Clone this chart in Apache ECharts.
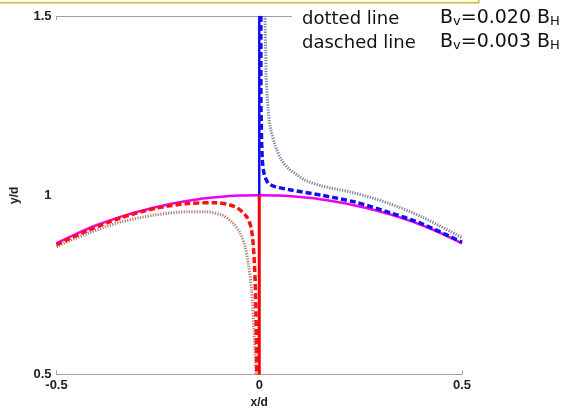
<!DOCTYPE html>
<html><head><meta charset="utf-8">
<script src="https://cdn.jsdelivr.net/npm/echarts@6/dist/echarts.min.js"></script>
<style>html,body{margin:0;padding:0;background:#fff}#c{width:570px;height:414px}</style>
</head><body><div id="c"></div>
<script>
// x-tick labels and y-tick labels
const xTicks = [-0.5, 0, 0.5];
const yTicks = [0.5, 1, 1.5];
// Solid magenta arc (x, y)
const arcSolid = [[-0.5,0.866],[-0.45,0.893],[-0.4,0.917],[-0.35,0.937],[-0.3,0.954],[-0.25,0.968],[-0.2,0.980],[-0.15,0.989],[-0.1,0.995],[-0.05,0.999],[0,1.0],[0.05,0.999],[0.1,0.995],[0.15,0.989],[0.2,0.980],[0.25,0.968],[0.3,0.954],[0.35,0.937],[0.4,0.917],[0.45,0.893],[0.5,0.866]];
// Solid vertical lines
const blueSolid = [[0,1.0],[0,1.5]];
const redSolid = [[0,1.0],[0,0.5]];
// Dashed (Bv=0.003 BH)
const blueDashed = [[0.004,1.5],[0.004,1.3],[0.005,1.2],[0.0075,1.1],[0.012,1.06],[0.022,1.034],[0.039,1.024],[0.072,1.016],[0.154,1.0],[0.236,0.981],[0.318,0.953],[0.4,0.921],[0.5,0.869]];
const redDashed = [[-0.5,0.862],[-0.422,0.902],[-0.339,0.938],[-0.257,0.963],[-0.175,0.977],[-0.109,0.979],[-0.06,0.968],[-0.031,0.940],[-0.019,0.903],[-0.012,0.81],[-0.008,0.671],[-0.006,0.5]];
// Dotted (Bv=0.020 BH)
const blueDotted = [[0.014,1.5],[0.016,1.4],[0.017,1.331],[0.022,1.238],[0.027,1.191],[0.039,1.14],[0.055,1.098],[0.072,1.075],[0.092,1.058],[0.113,1.042],[0.154,1.026],[0.236,1.006],[0.318,0.978],[0.4,0.940],[0.5,0.882]];
const redDotted = [[-0.5,0.857],[-0.422,0.894],[-0.339,0.926],[-0.257,0.945],[-0.175,0.954],[-0.134,0.954],[-0.093,0.945],[-0.068,0.926],[-0.047,0.894],[-0.035,0.857],[-0.027,0.81],[-0.019,0.736],[-0.013,0.624],[-0.008,0.5]];

const chart = echarts.init(document.getElementById('c'), null, {renderer:'canvas'});
const axisColor = '#a0a0a0';
const lblStyle = {color:'#222', fontFamily:'Liberation Sans, Arial', fontWeight:'bold', fontSize:13};
function mkLine(data, color, width, type, z){
  return {type:'line', data:data, showSymbol:false, symbol:'none', smooth:0.3,
    lineStyle:{color:color, width:width, type:type}, z:z, animation:false, silent:true};
}
const legFont = '18px "DejaVu Sans"';
const bFont = '19px "DejaVu Sans"';
const subFont = '13px "DejaVu Sans"';
const rich = {m:{font:bFont, fill:'#111', verticalAlign:'bottom'}, s:{font:subFont, fill:'#111', padding:[7,0,0,0], verticalAlign:'bottom'}};
chart.setOption({
  animation:false,
  backgroundColor:'#fff',
  grid:{left:56.5, right:108, top:16, bottom:39.5},
  xAxis:[{type:'value', min:-0.5, max:0.5, interval:0.5, position:'bottom',
    name:'x/d', nameLocation:'middle', nameGap:22, nameTextStyle:Object.assign({}, lblStyle, {fontSize:12}),
    axisLine:{show:true, lineStyle:{color:axisColor, width:1.2}}, axisTick:{inside:true, length:4, lineStyle:{color:axisColor}},
    axisLabel:Object.assign({margin:4, formatter:v=>xTicks.indexOf(v)>=0?String(v):''}, lblStyle), splitLine:{show:false}},
   {type:'value', min:-0.5, max:0.5, interval:0.5, position:'top',
    axisLine:{show:true, lineStyle:{color:axisColor, width:1.2}}, axisTick:{inside:true, length:4, lineStyle:{color:axisColor}},
    axisLabel:{show:false}, splitLine:{show:false}}],
  yAxis:[{type:'value', min:0.5, max:1.5, interval:0.5, position:'left',
    name:'y/d', nameLocation:'middle', nameGap:36, nameTextStyle:Object.assign({}, lblStyle, {fontSize:12}),
    axisLine:{show:true, lineStyle:{color:axisColor, width:1.2}}, axisTick:{inside:true, length:4, lineStyle:{color:axisColor}},
    axisLabel:Object.assign({margin:5, formatter:v=>yTicks.indexOf(v)>=0?String(v):''}, lblStyle), splitLine:{show:false}},
   {type:'value', min:0.5, max:1.5, interval:0.5, position:'right',
    axisLine:{show:true, lineStyle:{color:axisColor, width:1.2}}, axisTick:{inside:true, length:4, lineStyle:{color:axisColor}},
    axisLabel:{show:false}, splitLine:{show:false}}],
  series:[
    mkLine(arcSolid, '#f000f0', 2.5, 'solid', 2),
    mkLine(redDotted, '#b48484', 3, [1.3,1.3], 3),
    mkLine(blueDotted, '#8484a4', 3, [1.3,1.3], 3),
    mkLine(redDashed, '#ff1010', 3.5, [6,3], 4),
    mkLine(blueDashed, '#1010ee', 3.5, [6,3], 4),
    mkLine(blueSolid, '#1010ff', 2.5, 'solid', 5),
    mkLine(redSolid, '#ff0000', 3, 'solid', 5)
  ],
  graphic:[
    {type:'rect', left:-2, top:-10, shape:{width:480, height:12}, style:{fill:'#ffffe8', stroke:'#c8bb3c', lineWidth:1.5}, z:100},
    {type:'rect', left:292, top:4, shape:{width:290, height:67}, style:{fill:'#fff'}, z:100},
    {type:'text', left:302, top:10, z:101, style:{text:'dotted line', font:legFont, fill:'#111'}},
    {type:'text', left:302, top:34, z:101, style:{text:'dasched line', font:legFont, fill:'#111'}},
    {type:'text', left:440, top:9, z:101, style:{text:'{m|B}{s|v}{m|=0.020 B}{s|H}', rich:rich}},
    {type:'text', left:440, top:33, z:101, style:{text:'{m|B}{s|v}{m|=0.003 B}{s|H}', rich:rich}}
  ]
});
</script></body></html>
